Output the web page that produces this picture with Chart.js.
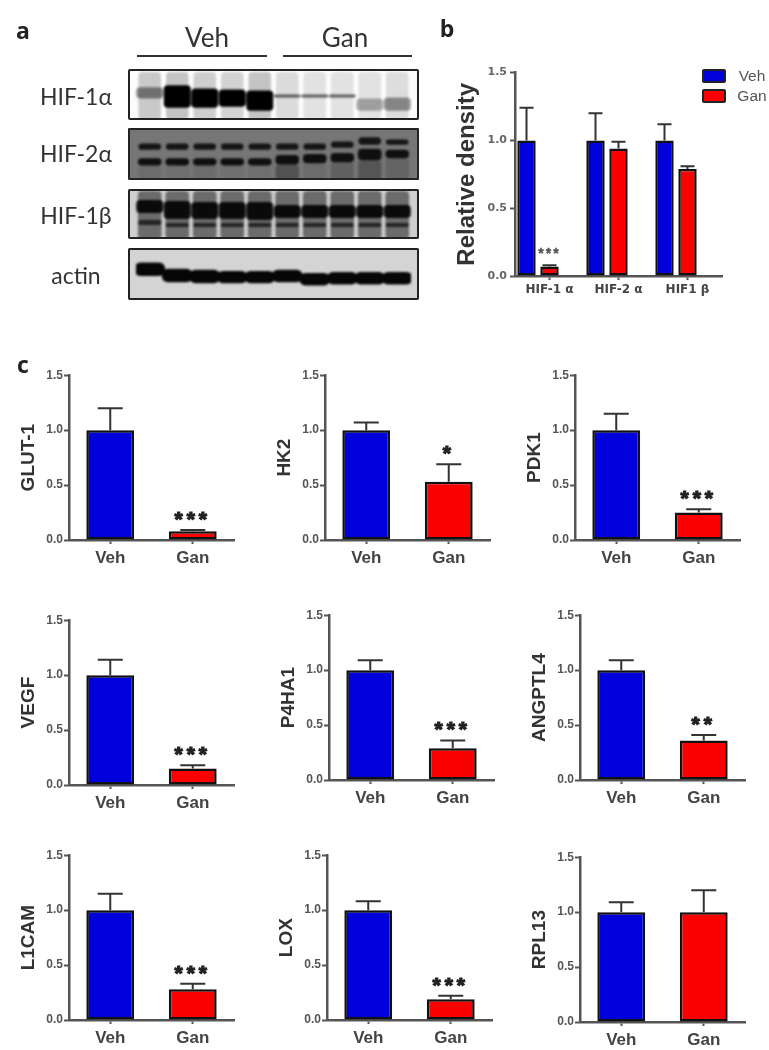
<!DOCTYPE html>
<html>
<head>
<meta charset="utf-8">
<title>HIF blots and expression</title>
<script src="https://cdn.jsdelivr.net/npm/chart.js@4"></script>
<style>
  html, body { margin: 0; padding: 0; background: #fff; }
  #page { position: relative; width: 769px; height: 1050px; overflow: hidden; filter: blur(0.55px); }
  #page canvas { position: absolute; }
  .txt { position: absolute; white-space: nowrap; transform: translate(-50%, -50%); color: #333; font-family: Lato, sans-serif; }
  .letter { font: bold 23px "Open Sans", sans-serif; color: #222; }
  .rule { position: absolute; height: 2px; background: #333; }
  .blot { position: absolute; overflow: hidden; box-sizing: border-box; }
  .blot canvas { filter: blur(1.2px); }
  .frame { position: absolute; box-sizing: border-box; border: 2px solid #222; border-radius: 2px; }
  .swatch { position: absolute; box-sizing: border-box; width: 24px; height: 14px; border: 2px solid #222; border-radius: 2px; }
</style>
</head>
<body>
<div id="page"></div>
<script>
/* panel b: relative density */
const densityLabels = ['HIF-1 α', 'HIF-2 α', 'HIF1 β'];
const densityVeh = [1.0, 1.0, 1.0];
const densityVehTop = [1.24, 1.2, 1.12];
const densityGan = [0.07, 0.94, 0.79];
const densityGanTop = [0.08, 0.99, 0.81];
const densityStars = ['***', '', ''];

/* panel c: qPCR */
const groups = ['Veh', 'Gan'];
const genes = ['GLUT-1', 'HK2', 'PDK1', 'VEGF', 'P4HA1', 'ANGPTL4', 'L1CAM', 'LOX', 'RPL13'];
const vehMeans = [1, 1, 1, 1, 1, 1, 1, 1, 1];
const vehTops = [1.2, 1.07, 1.15, 1.14, 1.09, 1.09, 1.15, 1.08, 1.09];
const ganMeans = [0.08, 0.53, 0.25, 0.15, 0.29, 0.36, 0.28, 0.19, 1.0];
const ganTops = [0.09, 0.69, 0.28, 0.18, 0.36, 0.41, 0.33, 0.22, 1.2];
const geneStars = ['***', '*', '***', '***', '***', '**', '***', '***', ''];
const yTicks = [0, 0.5, 1, 1.5];

/* panel a: blots, band extents on a 0-50 gel position scale, one per lane */
const lanes = ['1', '2', '3', '4', '5', '6', '7', '8', '9', '10'];
const hif1aBand = [[18, 29], [16, 38], [19, 38], [20, 37], [21, 41], [25, 28], [25, 28], [25, 28], [29, 41], [28, 41]];
const hif1aLevel = [0.45, 1, 1, 1, 1, 0.6, 0.6, 0.6, 0.3, 0.4];
const hif1aSmear = [[3, 50], [3, 50], [3, 50], [3, 50], [3, 50], [3, 50], [3, 50], [3, 50], [3, 50], [3, 50]];
const hif1aSmearLevel = [0.2, 0.22, 0.18, 0.16, 0.22, 0.13, 0.1, 0.1, 0.1, 0.12];
const hif2aUpper = [[15, 21], [15, 21], [15, 21], [15, 21], [15, 21], [15, 21], [15, 21], [13, 19], [9, 16], [11, 16]];
const hif2aLower = [[29, 36], [29, 36], [29, 36], [29, 36], [29, 36], [26, 35], [25, 34], [24, 33], [20, 31], [21, 29]];
const hif2aTail = [[36, 50], [36, 50], [36, 50], [36, 50], [36, 50], [35, 50], [34, 50], [33, 50], [31, 50], [29, 50]];
const hif2aTailLevel = [0.08, 0.05, 0.08, 0.05, 0.05, 0.3, 0.08, 0.18, 0.28, 0.15];
const hif1bMain = [[11, 24], [12, 30], [13, 30], [13, 30], [13, 31], [16, 29], [16, 29], [16, 29], [16, 29], [16, 29]];
const hif1bLower = [[31, 36], [34, 38], [34, 38], [34, 38], [34, 38], [34, 38], [34, 38], [34, 38], [34, 38], [34, 38]];
const hif1bSmear = [[2, 50], [2, 50], [2, 50], [2, 50], [2, 50], [2, 50], [2, 50], [2, 50], [2, 50], [2, 50]];
const actinBand = [[14, 27], [20, 33], [21, 34], [22, 34], [22, 34], [21, 33], [24, 36], [23, 35], [23, 35], [23, 35]];

const VEH_BLUE = '#0000dc';
const GAN_RED = '#fa0000';
const INK = '#555';
const page = document.getElementById('page');

function addText(text, x, y, css) {
  const el = document.createElement('div');
  el.className = 'txt';
  el.textContent = text;
  el.style.left = x + 'px';
  el.style.top = y + 'px';
  if (css) el.style.cssText += css;
  page.appendChild(el);
  return el;
}

function addCanvas(parent, left, top, w, h) {
  const c = document.createElement('canvas');
  c.width = w;
  c.height = h;
  c.style.left = left + 'px';
  c.style.top = top + 'px';
  parent.appendChild(c);
  return c.getContext('2d');
}

// Prism style error bars (upper arm only) and the significance stars.
const errorBarPlugin = {
  id: 'errorBars',
  afterDatasetsDraw(chart, args, opts) {
    const ctx = chart.ctx;
    const y = chart.scales.y;
    ctx.save();
    ctx.strokeStyle = '#333';
    ctx.lineWidth = 2;
    opts.tops.forEach((tops, i) => {
      chart.getDatasetMeta(i).data.forEach((bar, j) => {
        const py = y.getPixelForValue(tops[j]);
        ctx.beginPath();
        ctx.moveTo(bar.x, bar.y);
        ctx.lineTo(bar.x, py);
        ctx.moveTo(bar.x - opts.capHalf, py);
        ctx.lineTo(bar.x + opts.capHalf, py);
        ctx.stroke();
      });
    });
    const last = opts.tops.length - 1;
    ctx.fillStyle = opts.starColor;
    ctx.strokeStyle = opts.starColor;
    ctx.lineWidth = opts.starStroke;
    ctx.font = opts.starFont;
    ctx.textAlign = 'center';
    ctx.textBaseline = 'middle';
    ctx.letterSpacing = opts.starGap;
    chart.getDatasetMeta(last).data.forEach((bar, j) => {
      if (!opts.stars[j]) return;
      const py = y.getPixelForValue(opts.tops[last][j]) - opts.starLift;
      ctx.fillText(opts.stars[j], bar.x, py);
      ctx.strokeText(opts.stars[j], bar.x, py);
    });
    ctx.restore();
  },
};

function barScales(title, cfg) {
  return {
    x: {
      grid: { offset: false, drawOnChartArea: false, tickLength: 4, tickColor: INK, tickWidth: 2 },
      border: { color: INK, width: 2.5 },
      ticks: { color: cfg.xColor, font: cfg.xFont, padding: cfg.xPad, maxRotation: 0, autoSkip: false },
      afterFit(s) { s.height = cfg.xh; },
    },
    y: {
      min: 0, max: 1.5,
      afterBuildTicks(s) { s.ticks = yTicks.map((v) => ({ value: v })); },
      grid: { drawOnChartArea: false, tickLength: 5, tickColor: INK, tickWidth: 2 },
      border: { color: INK, width: 2.5 },
      ticks: { color: cfg.yColor, font: cfg.yFont, padding: cfg.yPad, callback: (v) => Number(v).toFixed(1) },
      title: { display: true, text: title, color: '#333', font: cfg.titleFont, padding: 0 },
      afterFit(s) { s.width = cfg.yw; },
    },
  };
}

/* ---- panel c ---- */
// axis x, y of 1.5, y of 0.0 for each small chart
const smallAxes = [
  [68.5, 375, 539.5], [325, 375, 539.5], [575, 375, 539.5],
  [68.5, 620, 784.5], [328.5, 615, 779.5], [579.5, 615, 779.5],
  [68.5, 855, 1020], [326.5, 855, 1020], [579.5, 856.5, 1021],
];

genes.forEach((gene, i) => {
  const [ax, top, zero] = smallAxes[i];
  const yw = 52, xh = 30, pad = 8;
  const h = Math.round(zero - top) + pad + xh;
  const ctx = addCanvas(page, ax - yw, top - pad, yw + 165 + 4, h);
  new Chart(ctx, {
    type: 'bar',
    data: {
      labels: groups,
      datasets: [{
        data: [vehMeans[i], ganMeans[i]],
        backgroundColor: [VEH_BLUE, GAN_RED],
        borderColor: '#111',
        borderWidth: 2.5,
        borderSkipped: false,
        categoryPercentage: 1,
        barPercentage: 0.58,
      }],
    },
    options: {
      responsive: false, animation: false,
      layout: { padding: { top: pad, right: 4, left: 0, bottom: 0 } },
      scales: barScales(gene, {
        yw, xh, xPad: 4, yPad: 1,
        xColor: '#444', xFont: { family: 'Liberation Sans', size: 17, weight: 'bold' },
        yColor: '#555', yFont: { family: 'Liberation Sans', size: 12, weight: 'bold' },
        titleFont: { family: 'Liberation Sans', size: 19, weight: 'bold' },
      }),
      plugins: {
        legend: { display: false },
        tooltip: { enabled: false },
        errorBars: {
          // one dataset, two bars: tops indexed by bar
          tops: [[vehTops[i], ganTops[i]]],
          stars: ['', geneStars[i]],
          capHalf: 12.5,
          starFont: 'bold 21px "Liberation Sans"', starColor: '#222', starStroke: 1.2, starGap: '4px', starLift: 10,
        },
      },
    },
    plugins: [errorBarPlugin],
  });
});

/* ---- panel b ---- */
{
  const ax = 515, top = 70.5, zero = 275, yw = 62, xh = 30, pad = 8;
  const ctx = addCanvas(page, ax - yw, top - pad, yw + 207 + 4, Math.round(zero - top) + pad + xh);
  const common = { borderColor: '#111', borderWidth: 2.5, borderSkipped: false, categoryPercentage: 1, barPercentage: 0.8 };
  new Chart(ctx, {
    type: 'bar',
    data: {
      labels: densityLabels,
      datasets: [
        { label: 'Veh', data: densityVeh, backgroundColor: VEH_BLUE, ...common },
        { label: 'Gan', data: densityGan, backgroundColor: GAN_RED, ...common },
        { label: '', data: [], ...common }, // Prism leaves the third slot empty, ticks sit under Gan
      ],
    },
    options: {
      responsive: false, animation: false,
      layout: { padding: { top: pad, right: 4, left: 0, bottom: 0 } },
      scales: barScales('Relative density', {
        yw, xh, xPad: 3, yPad: 3,
        xColor: '#444', xFont: { family: 'DejaVu Sans', size: 12, weight: 'bold' },
        yColor: '#666', yFont: { family: 'DejaVu Sans', size: 11, weight: 'bold' },
        titleFont: { family: 'Liberation Sans', size: 24, weight: 'bold' },
      }),
      plugins: {
        legend: { display: false },
        tooltip: { enabled: false },
        errorBars: {
          tops: [densityVehTop, densityGanTop],
          stars: densityStars,
          capHalf: 7,
          starFont: 'bold 14px "Liberation Sans"', starColor: '#555', starStroke: 0.4, starGap: '2px', starLift: 11,
        },
      },
    },
    plugins: [errorBarPlugin],
  });
  [['Veh', VEH_BLUE, 69], ['Gan', GAN_RED, 89]].forEach(([name, color, y]) => {
    const s = document.createElement('div');
    s.className = 'swatch';
    s.style.left = '702px';
    s.style.top = y + 'px';
    s.style.background = color;
    page.appendChild(s);
    addText(name, 752, y + 7, 'font:15.5px "Liberation Sans";color:#555;');
  });
}

/* ---- panel a ---- */
const shade = (levels) => levels.map((v) => `rgba(0,0,0,${v})`);
const flat = (v) => lanes.map(() => v);

function blot(top, height, bg, datasets) {
  const box = document.createElement('div');
  box.className = 'blot';
  box.style.cssText = `left:128px;top:${top}px;width:291px;height:${height}px;background:${bg};`;
  page.appendChild(box);
  const ctx = addCanvas(box, 0, 0, 291, height);
  new Chart(ctx, {
    type: 'bar',
    data: {
      labels: lanes,
      datasets: datasets.map((d) => ({ grouped: false, categoryPercentage: 1, borderRadius: 4, borderSkipped: false, ...d })),
    },
    options: {
      responsive: false, animation: false,
      layout: { padding: { left: 8, right: 8, top: 0, bottom: 0 } },
      scales: { x: { display: false }, y: { display: false, reverse: true, min: 0, max: 50 } },
      plugins: { legend: { display: false }, tooltip: { enabled: false } },
    },
  });
  const frame = document.createElement('div');
  frame.className = 'frame';
  frame.style.cssText = `left:128px;top:${top}px;width:291px;height:${height}px;`;
  page.appendChild(frame);
}

blot(69, 51, '#fcfcfc', [
  { data: hif1aBand, backgroundColor: shade(hif1aLevel), barPercentage: 0.98 },
  { data: hif1aSmear, backgroundColor: shade(hif1aSmearLevel), barPercentage: 0.82 },
]);
blot(128, 52, '#767676', [
  { data: hif2aUpper, backgroundColor: flat('rgba(10,10,10,0.9)'), barPercentage: 0.82 },
  { data: hif2aLower, backgroundColor: flat('rgba(10,10,10,0.95)'), barPercentage: 0.86 },
  { data: hif2aTail, backgroundColor: shade(hif2aTailLevel), barPercentage: 0.85 },
]);
blot(189, 50, '#cfcfcf', [
  { data: hif1bMain, backgroundColor: flat('rgba(5,5,5,0.95)'), barPercentage: 0.98 },
  { data: hif1bLower, backgroundColor: flat('rgba(5,5,5,0.7)'), barPercentage: 0.85 },
  { data: hif1bSmear, backgroundColor: flat('rgba(40,40,40,0.6)'), barPercentage: 0.86 },
]);
blot(248, 52, '#d4d4d4', [
  { data: actinBand, backgroundColor: flat('#060606'), barPercentage: 1.12, borderRadius: 6 },
]);

addText('HIF-1α', 76, 96, 'font-size:23px;');
addText('HIF-2α', 76, 153, 'font-size:23px;');
addText('HIF-1β', 76, 215, 'font-size:23px;');
addText('actin', 76, 275, 'font-size:23px;');
addText('Veh', 207, 37, 'font-size:26px;');
addText('Gan', 345, 37, 'font-size:26px;');

[[137, 130], [283, 129]].forEach(([x, w]) => {
  const r = document.createElement('div');
  r.className = 'rule';
  r.style.cssText = `left:${x}px;top:55px;width:${w}px;`;
  page.appendChild(r);
});

addText('a', 23, 30).classList.add('letter');
addText('b', 447, 28).classList.add('letter');
addText('c', 23, 364).classList.add('letter');
</script>
</body>
</html>
